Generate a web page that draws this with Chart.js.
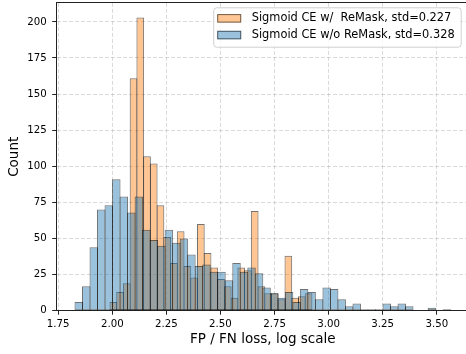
<!DOCTYPE html>
<html>
<head>
<meta charset="utf-8">
<script src="https://cdn.jsdelivr.net/npm/chart.js@4.4.0/dist/chart.umd.min.js"></script>
<style>
  html, body { margin: 0; padding: 0; overflow: hidden; background: #fff; }
</style>
</head>
<body>
<canvas id="hist" width="472" height="354"></canvas>
<script>
// Start of data
const blueLabel = "Sigmoid CE w/o ReMask, std=0.328";
const orangeLabel = "Sigmoid CE w/  ReMask, std=0.227";

// histogram range [first edge, last edge], bins are equal width
const blueRange = [1.8276, 3.564];
const orangeRange = [1.9894, 2.9228];

const blueCounts = [6, 17, 44, 70, 73, 91, 79, 68, 79, 56, 49, 45, 56, 47, 50, 39, 31, 32, 27, 27,
  21, 33, 27, 30, 26, 16, 12, 9, 13, 6, 15, 13, 8, 16, 15, 8, 3, 5, 1, 1,
  1, 5, 3, 5, 3, 0, 0, 2, 0, 1];
const orangeCounts = [6, 13, 19, 161, 203, 107, 102, 73, 51, 33, 55, 31, 23, 60, 40, 30, 22, 17, 9, 30,
  28, 69, 17, 12, 12, 8, 38, 9, 10, 12];

const xLimits = [1.7408, 3.6508];
const yLimits = [0, 213.15];
const xTickStep = 0.25;
const yTickStep = 25;
// End of data

// Start of toBins
function toBins(range, counts) {
  const w = (range[1] - range[0]) / counts.length;
  return counts.map((c, i) => ({ x: range[0] + w * (i + 0.5), y: c }));
}
// End of toBins

// Start of legend box plugin (matplotlib style legend inside the axes)
const legendBox = {
  id: "legendBox",
  afterDraw(chart) {
    const { ctx, chartArea } = chart;
    const items = [chart.data.datasets[0], chart.data.datasets[1]];
    ctx.save();
    ctx.font = '11.4px "DejaVu Sans"';
    const textW = Math.max(...items.map(d => ctx.measureText(d.label).width));
    const w = 38.5 + textW + 6;
    const h = 39.4;
    const right = chartArea.right - 8.7;
    const top = chartArea.top + 4.4;
    const left = right - w;

    ctx.beginPath();
    ctx.roundRect(left + 0.5, top + 0.5, w, h, 3);
    ctx.fillStyle = "rgba(255,255,255,0.8)";
    ctx.fill();
    ctx.strokeStyle = "#d0d0d0";
    ctx.lineWidth = 1;
    ctx.stroke();

    items.forEach((d, i) => {
      const cy = top + 11 + i * 16.7;
      ctx.fillStyle = "#fff";
      ctx.fillRect(left + 4, cy - 4.2, 24, 8.5);
      ctx.fillStyle = d.backgroundColor;
      ctx.fillRect(left + 4, cy - 4.2, 24, 8.5);
      ctx.strokeStyle = d.borderColor;
      ctx.strokeRect(left + 4.5, cy - 3.7, 23, 7.5);
      ctx.fillStyle = "#000";
      ctx.textBaseline = "middle";
      ctx.textAlign = "left";
      ctx.fillText(d.label, left + 38.5, cy);
    });
    ctx.restore();
  }
};
// End of legend box plugin

// Start of main
function main() {
  Chart.defaults.font.family = '"DejaVu Sans", sans-serif';
  Chart.defaults.color = "#000";

  const gridColor = "rgba(176,176,176,0.6)";
  const axisColor = "#222";
  const edgeColor = "rgba(0,0,0,0.55)";

  const ctx = document.getElementById("hist").getContext("2d");
  new Chart(ctx, {
    type: "bar",
    data: {
      datasets: [
        {
          label: orangeLabel,
          data: toBins(orangeRange, orangeCounts),
          xAxisID: "x2",
          backgroundColor: "rgba(255,127,14,0.45)",
          borderColor: edgeColor,
          borderWidth: 1,
          borderSkipped: false,
          grouped: false,
          // a little wider than the bin so neighbour edges share one line
          barPercentage: 1.147,
          categoryPercentage: 1,
          order: 2,
        },
        {
          label: blueLabel,
          data: toBins(blueRange, blueCounts),
          xAxisID: "x",
          backgroundColor: "rgba(31,119,180,0.45)",
          borderColor: edgeColor,
          borderWidth: 1,
          borderSkipped: false,
          grouped: false,
          barPercentage: 1.13,
          categoryPercentage: 1,
          order: 1,
        },
      ],
    },
    options: {
      responsive: false,
      animation: false,
      layout: { padding: { left: 0, right: 2.6, top: 0, bottom: 0 } },
      plugins: {
        legend: { display: false },
        tooltip: { enabled: false },
      },
      scales: {
        x: {
          type: "linear",
          position: "bottom",
          min: xLimits[0],
          max: xLimits[1],
          offset: false,
          grid: {
            offset: false,
            color: gridColor,
            lineWidth: 0.8,
            tickColor: axisColor,
            tickLength: 4,
            tickWidth: 1,
          },
          border: { display: true, color: axisColor, width: 1, dash: [4, 2] },
          ticks: {
            stepSize: xTickStep,
            includeBounds: false,
            padding: 3.2,
            font: { size: 10.2 },
            maxRotation: 0,
            callback: v => v.toFixed(2),
          },
          title: {
            display: true,
            text: "FP / FN loss, log scale",
            font: { size: 13.5 },
            padding: { top: 0, bottom: 6 },
          },
          afterFit: s => { s.height = 43.3; s.paddingLeft = 0; s.paddingRight = 0; },
        },
        x2: {
          type: "linear",
          position: "top",
          min: xLimits[0],
          max: xLimits[1],
          offset: false,
          grid: { display: false, drawTicks: false },
          border: { display: true, color: axisColor, width: 1 },
          ticks: { display: false, stepSize: xTickStep, includeBounds: false },
          afterFit: s => { s.height = 2.9; s.paddingLeft = 0; s.paddingRight = 0; },
        },
        y: {
          type: "linear",
          min: yLimits[0],
          max: yLimits[1],
          grid: {
            color: gridColor,
            lineWidth: 0.8,
            tickColor: axisColor,
            tickLength: 4,
            tickWidth: 1,
          },
          border: { display: true, color: axisColor, width: 1, dash: [4, 2] },
          ticks: {
            stepSize: yTickStep,
            includeBounds: false,
            padding: 5.5,
            font: { size: 10.2 },
          },
          title: {
            display: true,
            text: "Count",
            font: { size: 13.5 },
            padding: { top: 6.4, bottom: 0 },
          },
          afterFit: s => { s.width = 56.2; s.paddingTop = 0; s.paddingBottom = 0; },
        },
      },
    },
    plugins: [legendBox],
  });
}

main();
// End of main
</script>
</body>
</html>
